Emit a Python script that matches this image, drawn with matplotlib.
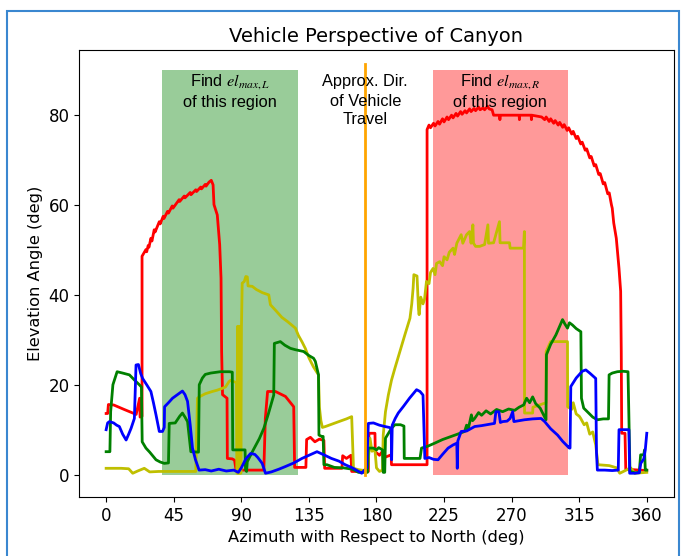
import matplotlib
matplotlib.use("Agg")
import matplotlib.pyplot as plt
from matplotlib.patches import Rectangle

# azimuth (deg) / elevation (deg) traces
red_az = [0, 1, 1.5, 5, 12, 20, 22.3, 22.6, 23.9, 23.9, 26.5, 27, 28, 28.5, 29.8, 30.5, 32, 32.6, 35.4, 36, 38, 38.5,
          40.9, 41.5, 44, 44.5, 48.6, 49, 52, 52.5, 56, 56.5, 59.7, 60.2, 63, 63.5, 66, 66.5, 68.5, 70, 71.2, 71.8,
          74, 75.6, 76.5, 76.9, 77.5, 80.5, 80.7, 84, 85.5, 86.5, 105, 106, 107.5, 112.7, 119.4, 124.9, 125.5, 133,
          133.5, 136, 139, 142, 145, 145.5, 157, 157.5, 160, 163, 163.5, 164.7, 172, 174.6, 175, 179, 179.2, 182,
          184, 186, 189.8, 190, 213.7, 213.7, 215, 216, 218, 219, 221, 222, 224, 225, 227, 228, 230, 231, 233, 234,
          236, 237, 239, 240, 242, 243, 245, 246, 248, 249, 251, 252, 254, 255, 257, 258, 262, 262.2, 262.4, 275,
          275.2, 275.4, 283, 283.2, 283.4, 290, 292, 293, 295, 296, 298, 299, 301, 302, 304, 305, 307, 308, 310,
          311, 313, 314, 316, 317, 319, 320, 322, 323, 325, 326, 328, 329, 331, 332, 334, 335, 336.5, 337, 338,
          339.7, 341.5, 342.6, 343, 343.3, 345.5, 346, 360]
red_el = [13.6, 13.6, 15.6, 15.5, 14.5, 13.4, 17, 12.8, 13, 48.6, 50.1, 49.6, 51, 50.6, 52.6, 52, 54.5, 54, 56.3,
          55.8, 57.5, 57, 58.6, 58.2, 59.8, 59.3, 61.2, 60.8, 62, 61.6, 62.8, 62.3, 63.4, 63, 64, 63.6, 64.6, 64.2,
          65.1, 65.5, 64.5, 60.1, 57.8, 51.2, 43.7, 27.4, 17.8, 17, 3.6, 3.5, 3.2, 1, 1, 12.5, 18.5, 18.5, 17.4,
          15.1, 1.6, 1.6, 7.8, 8.3, 7.3, 7.9, 7.6, 1.4, 1.4, 4.2, 3.6, 4.3, 0.7, 0.7, 0.7, 0.7, 9.2, 9.2, 5.1, 4.3,
          5.2, 3.9, 4.4, 2.2, 2.2, 76.8, 77.8, 77.2, 78.2, 77.6, 78.6, 78, 79.2, 78.5, 79.6, 79, 80, 79.4, 80.4,
          79.8, 80.8, 80.2, 81, 80.5, 81.4, 80.8, 81.5, 81, 81.8, 81.2, 81.6, 81.2, 82, 81.4, 81.2, 80, 80, 79,
          80, 80, 79, 80, 80, 79, 80, 79.6, 79, 79.6, 78.6, 79.2, 78.2, 78.8, 77.8, 78.4, 77.3, 77.9, 76.6, 77.2,
          75.8, 76.4, 74.8, 75.3, 73.6, 74, 72.2, 72.5, 70.5, 70.8, 68.7, 69, 66.8, 67, 64.7, 65, 62.5, 62.7, 60,
          59.3, 56, 52.6, 45.9, 40.8, 27.4, 9.2, 9.2, 1.2, 0.9]

green_az = [0, 2.5, 3, 4.5, 7.3, 11, 15.5, 19, 22.1, 23.5, 24, 26.5, 29, 30.5, 33.2, 36, 38.7, 41.5, 42, 46, 49,
            50.8, 52.5, 54.2, 56.4, 61.5, 62, 64.1, 66, 69.6, 76, 82, 84, 84.3, 92.5, 92.8, 93.5, 94, 98, 102, 105,
            108, 111.6, 112, 116, 119, 122.7, 126, 131.5, 135, 138.1, 139.3, 141.4, 141.7, 143.5, 144.5, 145, 147,
            152, 158, 164, 168, 172, 174, 174.6, 178, 180, 181.5, 184, 184.5, 185.5, 186, 190, 192.3, 196, 198.3,
            198.5, 205, 209, 210, 214, 218.8, 224, 229.9, 234, 238.7, 240, 241, 243.2, 244, 245.4, 248, 250, 253,
            256, 260, 264, 268, 272, 275, 278, 280, 282, 284, 286, 289, 292.5, 292.9, 293.2, 296, 299.5, 302, 303.9,
            305.5, 307.2, 308.5, 310.5, 313, 316.1, 316.5, 318, 321, 324, 327.1, 331, 334.5, 334.9, 337, 340.4, 344,
            347.5, 348.8, 352, 355, 355.9, 358, 358.5, 359, 360]
green_el = [5.1, 5.1, 14, 20, 22.9, 22.6, 22.2, 21, 20, 19.5, 7.3, 5.9, 5, 4.4, 3.3, 2.8, 2.5, 2.6, 11.4, 11.5, 13,
            13.7, 12.8, 11.8, 5.1, 5, 20, 21.5, 22.3, 22.6, 22.9, 22.9, 22.8, 5.5, 5.5, 1.1, 0.7, 2.9, 5.5, 8, 10.3,
            13.5, 17.7, 29.2, 29.6, 28.8, 28.1, 27.8, 27.4, 26.5, 25.9, 25.2, 22.2, 8.8, 8.5, 8.5, 2.2, 2.2, 1.6,
            1.5, 1.2, 0.5, 0.5, 0.5, 5.9, 5.9, 5.5, 6, 5.5, 0.5, 0.5, 8.1, 10.3, 11.1, 11.1, 10.8, 3.6, 3.6, 3.6,
            5.9, 6.3, 7, 7.8, 8.5, 9, 9.6, 11, 10, 13.3, 12, 12.5, 13.8, 13.2, 14.2, 13.5, 14.5, 14, 14.6, 14.3, 15,
            15.5, 17, 16, 17.3, 15.8, 14.8, 12.5, 12.2, 26.7, 29, 31.1, 33, 34.5, 33.5, 32.6, 33.8, 33.3, 32.5, 31.8,
            17, 14.8, 13.8, 12.8, 12.2, 12.4, 12.4, 22.2, 22.6, 22.9, 23, 22.9, 0.7, 0.4, 0.5, 4.4, 4.4, 5.5, 1, 1]

blue_az = [0, 1, 2.2, 5, 7, 8.8, 11, 13.3, 15, 16.6, 18.8, 19.9, 21.5, 23, 24.3, 27, 29.8, 31.5, 33.2, 35.4, 37.5,
           38.7, 38.9, 41.5, 44.2, 47.5, 50.8, 52.5, 54.2, 56, 57.5, 59.5, 61.9, 66, 70, 75, 80, 85, 88, 90, 93,
           96.2, 99, 101, 103.9, 106.1, 110, 115, 119.4, 125, 130.4, 135, 140.4, 145, 150, 155, 159.2, 164, 170.2,
           172, 173.5, 174.6, 178, 182, 185.7, 188.5, 189.8, 190.1, 190.5, 192.5, 194.5, 198, 202, 206.7, 209, 211,
           212.2, 215, 218, 221, 224, 227.7, 231, 233.5, 233.8, 234.2, 236.4, 240, 245.4, 250, 255, 258.6, 259.5,
           261.5, 262.5, 264.1, 267, 269, 270.7, 271.5, 275, 278.5, 284, 289.6, 292, 296, 300.6, 304, 308.4, 308.9,
           309.4, 313, 317, 319.4, 322, 326, 326.5, 327.1, 332, 337, 341, 341.5, 344, 348.1, 348.6, 352, 355, 356,
           358, 359, 360]
blue_el = [10, 11.5, 11.8, 11.5, 11, 10.7, 9, 7.7, 9, 10.3, 12.5, 24.4, 24.5, 22.5, 21.4, 20, 18.5, 16, 13.3, 9.6,
           9.6, 10.5, 15.1, 16, 17, 17.8, 18.6, 17.8, 16.3, 11, 5.9, 3.3, 1, 1.1, 0.8, 1.2, 0.8, 1, 0.5, 1.5, 3.5,
           4.7, 4.5, 3.8, 2.5, 0.3, 0.6, 1.2, 1.8, 2.6, 3.6, 4.3, 5.1, 4.4, 3.6, 3, 2.2, 1.5, 0.3, 1, 1.5, 11.4,
           11.5, 11, 10.7, 10.5, 10.3, 3.3, 11, 12.5, 13.7, 15.2, 17, 18.9, 18.5, 17.7, 3.6, 3.8, 3.4, 3.3, 4.5, 5.9,
           6.6, 7, 1.4, 7.5, 9.6, 9.7, 10.7, 10.9, 11.2, 11.4, 14, 14, 11.6, 11.8, 11.9, 12.5, 14, 11.8, 12, 12.2,
           12.4, 12.5, 11.8, 10.2, 8.8, 7.4, 5.9, 5.9, 19.6, 21.5, 23, 23.3, 22.6, 21.4, 5, 1, 1, 0.9, 1, 10, 10,
           10, 0.3, 0.3, 0.4, 2.5, 3.5, 5.5, 9.2]

yellow_az = [0, 10, 15, 17.7, 21, 25.4, 29, 35, 45, 55, 59.7, 60.8, 62, 66, 70.7, 74, 77.3, 79.5, 81.8, 83, 84, 86.8,
             87.2, 87.5, 88, 88.4, 88.8, 89.3, 89.7, 90.1, 90.6, 92, 93, 94, 94.5, 97.3, 100, 104, 108.3, 109.4,
             113, 117, 121, 126, 128, 130.5, 132.6, 135, 138, 141.4, 142, 143, 144, 146, 150, 155, 160, 163.5, 164.7,
             168, 172, 174, 175.7, 177, 179, 180, 182, 184, 184.5, 186, 187.9, 190, 192.3, 195.6, 198.9, 202.3,
             203.5, 204.4, 204.9, 207, 208, 208.4, 209.5, 211, 212, 213.3, 215, 216, 217.7, 219, 220, 222.1, 224, 225,
             227, 228.5, 231, 232, 233.5, 236.4, 237.5, 240, 242, 243, 244.2, 244.6, 246, 248.7, 252, 254.2, 254.6,
             258, 261.9, 262.3, 268.6, 269, 277.9, 278.5, 278.6, 284, 284.2, 292.9, 293, 296, 307.2, 307.3, 310, 311,
             313, 315, 316, 318.3, 320, 322, 324, 326, 327.5, 335, 340, 342, 345, 349.3, 352, 360]
yellow_el = [1.4, 1.4, 1.3, 0.3, 0.8, 1.4, 0.6, 0.7, 0.7, 0.7, 0.7, 17, 17.3, 18, 18.5, 18.8, 19.2, 19.5, 20.7, 21,
             20.8, 20.5, 0.3, 33, 0.3, 33, 0.3, 33, 0.3, 33, 42.6, 43, 44.1, 44, 42, 41.9, 41.2, 40.5, 40, 37.8, 36.5,
             35, 34, 32.6, 31, 29.5, 28.1, 26, 24, 22.2, 15, 12, 10.5, 10.7, 11.2, 11.8, 12.4, 12.9, 1.4, 1.1, 0.9, 1,
             8.1, 5.2, 5.5, 1.5, 0.7, 1, 8.8, 14, 17.7, 21, 23.7, 27.4, 31.1, 34.8, 38, 41.5, 44.5, 44.2, 36.8, 35.6,
             39.5, 38, 39, 43, 42.5, 45, 45.9, 44.5, 47, 47.4, 46.5, 48.5, 47.8, 49.5, 50.4, 49, 51.5, 53.4, 51.5,
             53.4, 54.1, 51.5, 55.6, 51.5, 50.8, 50.8, 51.2, 55.6, 51.5, 51.6, 56.3, 51.6, 51.6, 50.4, 50.4, 54.1,
             13.7, 13.7, 15, 16, 27.4, 29.6, 29.6, 15.1, 14.5, 16, 13.5, 13, 12.5, 11.1, 11.5, 9, 9.5, 6.6, 2.2, 2,
             1.5, 0.3, 0.8, 1.5, 0.3, 0.5]

left_region = (37.5, 127.5)
right_region = (217.5, 307.5)
travel_dir = 172.5
region_top = 90

fig = plt.figure(figsize=(6.82, 5.56), dpi=100)
ax = fig.add_axes([0.116, 0.106, 0.872, 0.804])

ax.fill_between(left_region, 0, region_top, color='green', alpha=0.4, lw=0)
ax.fill_between(right_region, 0, region_top, color='red', alpha=0.4, lw=0)

lw = 2.0
ax.plot(red_az, red_el, color='red', lw=lw)
ax.plot(yellow_az, yellow_el, color='y', lw=lw)
ax.plot(green_az, green_el, color='green', lw=lw)
ax.plot(blue_az, blue_el, color='blue', lw=lw)
ax.plot([travel_dir, travel_dir], [0, region_top + 1.5], color='orange', lw=2)

ax.set_xlim(-18, 378)
ax.set_ylim(-5, 94.5)
ax.set_xticks(range(0, 361, 45))
ax.set_yticks(range(0, 81, 20))
ax.tick_params(labelsize=12)
ax.set_title('Vehicle Perspective of Canyon', fontsize=14)
ax.set_xlabel('Azimuth with Respect to North (deg)', fontsize=11.7)
ax.set_ylabel('Elevation Angle (deg)', fontsize=11.7)

plt.rcParams['mathtext.fontset'] = 'stix'
tfont = dict(family='Liberation Sans', fontsize=11.8, ha='center', va='center')
lc = sum(left_region) / 2
rc = sum(right_region) / 2
ax.text(lc, 87.6, r'Find $el_{max,L}$', **tfont)
ax.text(lc, 82.9, 'of this region', **tfont)
ax.text(rc, 87.6, r'Find $el_{max,R}$', **tfont)
ax.text(rc, 82.9, 'of this region', **tfont)
ax.text(travel_dir, 87.4, 'Approx. Dir.', **tfont)
ax.text(travel_dir, 83.1, 'of Vehicle', **tfont)
ax.text(travel_dir, 79.0, 'Travel', **tfont)

# blue screenshot frame
fig.patches.append(Rectangle((7 / 682, -0.05), 672 / 682, 1.05 - 11 / 556, transform=fig.transFigure,
                             fill=False, edgecolor='#3a87d0', lw=1.5))

fig.savefig('out.png', dpi=100)
